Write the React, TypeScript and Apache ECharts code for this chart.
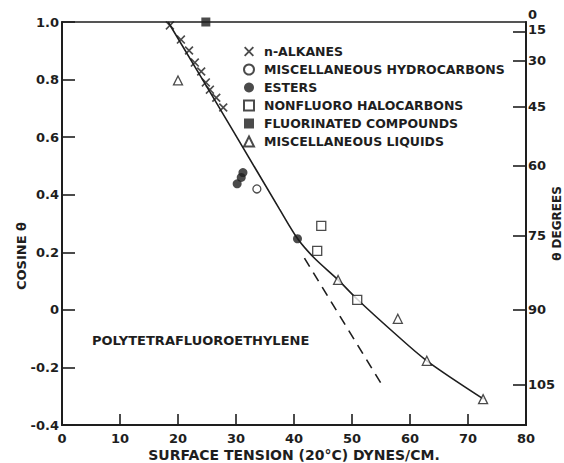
import React, { useEffect, useRef } from "react";
import * as echarts from "echarts";

// ---- data (surface tension dynes/cm, cosine theta) ----
const nAlkanes: [number, number][] = [
  [18.6, 0.988], [20.5, 0.939], [21.9, 0.901], [22.9, 0.859], [24.0, 0.828],
  [24.8, 0.79], [25.5, 0.765], [26.6, 0.737], [27.8, 0.703],
];
const miscHydrocarbons: [number, number][] = [[33.6, 0.42]];
const esters: [number, number][] = [[30.2, 0.438], [30.9, 0.46], [31.2, 0.477], [40.6, 0.247]];
const nonfluoroHalocarbons: [number, number][] = [[44.7, 0.292], [44.0, 0.205], [50.9, 0.035]];
const fluorinated: [number, number][] = [[24.8, 1.0]];
const miscLiquids: [number, number][] = [
  [20.0, 0.797], [47.6, 0.104], [57.9, -0.031], [62.9, -0.177], [72.6, -0.31],
];
const fitCurve: [number, number][] = [
  [18.3, 1.0], [29.5, 0.622], [37.5, 0.35], [40.7, 0.245], [43.5, 0.18],
  [47.6, 0.104], [51.0, 0.035], [57.1, -0.077], [62.9, -0.177], [72.7, -0.31],
];
const extrapolation: [number, number][] = [[41.8, 0.18], [55.3, -0.265]];
const thetaTicks = [0, 15, 30, 45, 60, 75, 90, 105];

const INK = "#1e1e1e";
const FONT = "DejaVu Sans";
const X_PATH =
  "path://M0,1.3 L1.3,0 L5,3.7 L8.7,0 L10,1.3 L6.3,5 L10,8.7 L8.7,10 L5,6.3 L1.3,10 L0,8.7 L3.7,5 Z";

const cosOf = (d: number) => Math.cos((d * Math.PI) / 180);

export default function App() {
  const ref = useRef<HTMLDivElement>(null);
  useEffect(() => {
    if (!ref.current) return;
    const chart = echarts.init(ref.current, undefined, { renderer: "svg" });
    const openStyle = { color: "#fff", borderColor: INK, borderWidth: 1.3 };
    const labelFont = { fontFamily: FONT, fontSize: 13, fontWeight: "bold" as const, color: INK };
    const option: any = {
      animation: false,
      backgroundColor: "#fff",
      textStyle: { fontFamily: FONT, color: INK },
      grid: {
        left: 62, right: 38, top: 22, bottom: 38,
        outerBoundsMode: "none",
        containLabel: false,
        show: true, borderColor: INK, borderWidth: 1.5, backgroundColor: "transparent",
      },
      legend: {
        orient: "vertical",
        left: 243,
        top: 45,
        padding: 0,
        itemGap: 5,
        itemWidth: 10,
        itemHeight: 10,
        textStyle: {
          fontFamily: FONT, fontSize: 12.5, fontWeight: "bold", color: INK,
          lineHeight: 13, padding: [0, 0, 0, 5],
        },
        data: [
          "n-ALKANES",
          "MISCELLANEOUS HYDROCARBONS",
          "ESTERS",
          "NONFLUORO HALOCARBONS",
          "FLUORINATED COMPOUNDS",
          "MISCELLANEOUS LIQUIDS",
        ],
      },
      xAxis: {
        type: "value",
        min: 0,
        max: 80,
        interval: 10,
        name: "SURFACE TENSION (20°C) DYNES/CM.",
        nameLocation: "middle",
        nameGap: 23,
        nameMoveOverlap: false,
        nameTextStyle: { fontFamily: FONT, fontSize: 14, fontWeight: "bold", color: INK },
        axisLine: { show: true, onZero: false, lineStyle: { color: INK, width: 2 } },
        axisTick: { show: true, inside: true, length: 11, lineStyle: { color: INK, width: 1.6 } },
        axisLabel: { margin: 7, ...labelFont },
        splitLine: { show: false },
      },
      yAxis: [
        {
          type: "value",
          min: -0.4,
          max: 1.0,
          interval: 0.2,
          position: "left",
          axisLine: { show: true, onZero: false, lineStyle: { color: INK, width: 2 } },
          axisTick: { show: true, inside: true, length: 13, lineStyle: { color: INK, width: 1.6 } },
          axisLabel: {
            margin: 3,
            ...labelFont,
            formatter: (v: number) => (Math.abs(v) < 1e-9 ? "0" : v.toFixed(1)),
          },
          splitLine: { show: false },
        },
        {
          type: "value",
          min: -0.4,
          max: 1.0,
          position: "right",
          name: "θ DEGREES",
          nameLocation: "middle",
          nameRotate: 90,
          nameGap: 25,
          nameMoveOverlap: false,
          nameTextStyle: { fontFamily: FONT, fontSize: 12, fontWeight: "bold", color: INK },
          axisLine: { show: true, onZero: false, lineStyle: { color: INK, width: 2 } },
          axisTick: {
            show: true,
            inside: true,
            length: 13,
            lineStyle: { color: INK, width: 1.6 },
            customValues: thetaTicks.slice(1).map(cosOf),
          },
          axisLabel: {
            margin: 2,
            ...labelFont,
            showMinLabel: true,
            hideOverlap: false,
            customValues: thetaTicks.slice(1).map(cosOf),
            formatter: (v: number) => {
              const d = Math.round((Math.acos(Math.max(-1, Math.min(1, v))) * 180) / Math.PI);
              if (d === 15) return "{mid|15}";
              return String(d);
            },
            rich: {
              mid: { ...labelFont, padding: [0, 0, 4, 0] },
            },
          },
          splitLine: { show: false },
        },
      ],
      graphic: [
        {
          type: "text",
          x: 528,
          y: 14,
          style: {
            text: String(thetaTicks[0]),
            font: `bold 13px "${FONT}"`,
            fill: INK,
            align: "left",
            verticalAlign: "middle",
          },
        },
        {
          type: "text",
          left: 92,
          top: 334,
          style: {
            text: "POLYTETRAFLUOROETHYLENE",
            font: `bold 13px "${FONT}"`,
            fill: INK,
          },
        },
        {
          type: "text",
          x: 21,
          y: 256,
          rotation: Math.PI / 2,
          style: {
            text: "COSINE θ",
            font: `bold 13px "${FONT}"`,
            fill: INK,
            align: "center",
            verticalAlign: "middle",
          },
        },
      ],
      series: [
        {
          type: "line",
          data: fitCurve,
          smooth: 0.3,
          symbol: "none",
          lineStyle: { color: INK, width: 1.6 },
          silent: true,
          z: 1,
        },
        {
          type: "line",
          data: extrapolation,
          symbol: "none",
          lineStyle: { color: INK, width: 1.6, type: [10, 7] },
          silent: true,
          z: 1,
        },
        {
          name: "n-ALKANES",
          type: "scatter",
          data: nAlkanes,
          symbol: X_PATH,
          symbolSize: 9,
          itemStyle: { color: INK },
          z: 3,
        },
        {
          name: "MISCELLANEOUS HYDROCARBONS",
          type: "scatter",
          data: miscHydrocarbons,
          symbol: "circle",
          symbolSize: 8,
          itemStyle: openStyle,
          z: 3,
        },
        {
          name: "ESTERS",
          type: "scatter",
          data: esters,
          symbol: "circle",
          symbolSize: 9,
          itemStyle: { color: INK },
          z: 3,
        },
        {
          name: "NONFLUORO HALOCARBONS",
          type: "scatter",
          data: nonfluoroHalocarbons,
          symbol: "rect",
          symbolSize: 9,
          itemStyle: openStyle,
          z: 3,
        },
        {
          name: "FLUORINATED COMPOUNDS",
          type: "scatter",
          data: fluorinated,
          symbol: "rect",
          symbolSize: 9,
          itemStyle: { color: INK },
          z: 3,
        },
        {
          name: "MISCELLANEOUS LIQUIDS",
          type: "scatter",
          data: miscLiquids,
          symbol: "triangle",
          symbolSize: 9,
          itemStyle: openStyle,
          z: 3,
        },
      ],
    };
    chart.setOption(option);
    return () => chart.dispose();
  }, []);
  return (
    <div
      ref={ref}
      style={{ position: "fixed", left: 0, top: 0, width: 564, height: 463, background: "#fff" }}
    />
  );
}
